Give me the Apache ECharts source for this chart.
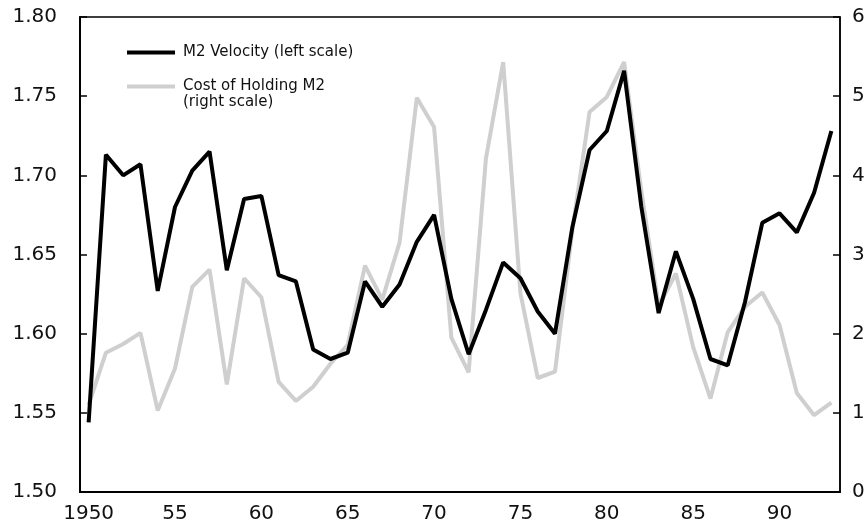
<!DOCTYPE html>
<html>
<head>
<meta charset="utf-8">
<script src="https://cdn.jsdelivr.net/npm/echarts@6/dist/echarts.min.js"></script>
<style>
html,body{margin:0;padding:0;background:#fff;}
#chart{width:868px;height:531px;}
</style>
</head>
<body>
<div id="chart"></div>
<script>
const years = ['1950','1951','1952','1953','1954','1955','1956','1957','1958','1959',
  '1960','1961','1962','1963','1964','1965','1966','1967','1968','1969',
  '1970','1971','1972','1973','1974','1975','1976','1977','1978','1979',
  '1980','1981','1982','1983','1984','1985','1986','1987','1988','1989',
  '1990','1991','1992','1993'];
const m2Velocity = [1.544,1.713,1.700,1.707,1.627,1.680,1.703,1.715,1.640,1.685,
  1.687,1.637,1.633,1.590,1.584,1.588,1.633,1.617,1.631,1.658,
  1.675,1.622,1.587,1.615,1.645,1.635,1.614,1.600,1.667,1.716,
  1.728,1.766,1.680,1.613,1.652,1.622,1.584,1.580,1.620,1.670,
  1.676,1.664,1.689,1.728];
const costOfHolding = [1.10,1.76,1.87,2.01,1.03,1.56,2.59,2.81,1.36,2.70,
  2.46,1.39,1.15,1.33,1.62,1.86,2.86,2.43,3.15,4.98,
  4.61,1.95,1.51,4.21,5.43,2.51,1.44,1.52,3.30,4.80,
  4.99,5.43,3.80,2.35,2.76,1.83,1.18,2.02,2.34,2.52,
  2.11,1.25,0.97,1.13];
const leftTicks = {min:1.50, max:1.80, interval:0.05};
const rightTicks = {min:0, max:6, interval:1};
const xLabelEvery = 5;

const FONT = 'DejaVu Sans';
const chart = echarts.init(document.getElementById('chart'));
chart.setOption({
  animation:false,
  backgroundColor:'#fff',
  grid:{left:80,right:28,top:17,bottom:39,show:true,borderColor:'#000',borderWidth:1.5},
  legend:[
    {left:122,top:40,itemWidth:48,itemHeight:4,icon:'rect',data:['M2 Velocity (left scale)'],
     textStyle:{fontFamily:FONT,fontSize:15,color:'#111',padding:[0,0,0,3]}},
    {left:122,top:74,itemWidth:48,itemHeight:4,icon:'rect',data:['Cost of Holding M2 (right scale)'],
     formatter:()=>'Cost of Holding M2',
     textStyle:{fontFamily:FONT,fontSize:15,color:'#111',padding:[0,0,0,3]}}
  ],
  graphic:[{type:'text',left:183,top:95,style:{text:'(right scale)',font:'15px "DejaVu Sans"',fill:'#111'}}],
  xAxis:{type:'category',data:years,boundaryGap:true,
    axisLine:{lineStyle:{color:'#000',width:2}},
    axisTick:{inside:true,length:6,alignWithLabel:true,interval:0,lineStyle:{color:'#000',width:1.5}},
    axisLabel:{interval:(i)=>i%xLabelEvery===0,margin:12,color:'#111',fontFamily:FONT,fontSize:20,
      formatter:(v,i)=>i===0?v:v.slice(2)}},
  yAxis:[
    {type:'value',position:'left',min:leftTicks.min,max:leftTicks.max,interval:leftTicks.interval,
     splitLine:{show:false},
     axisLine:{show:true,lineStyle:{color:'#000',width:2}},
     axisTick:{show:true,inside:true,length:7,lineStyle:{color:'#000',width:1.5}},
     axisLabel:{margin:23,color:'#111',fontFamily:FONT,fontSize:20,formatter:v=>v.toFixed(2)}},
    {type:'value',position:'right',min:rightTicks.min,max:rightTicks.max,interval:rightTicks.interval,
     splitLine:{show:false},
     axisLine:{show:true,lineStyle:{color:'#000',width:1.5}},
     axisTick:{show:true,inside:true,length:7,lineStyle:{color:'#000',width:1.5}},
     axisLabel:{margin:12,color:'#111',fontFamily:FONT,fontSize:20}}
  ],
  series:[
    {name:'Cost of Holding M2 (right scale)',type:'line',yAxisIndex:1,data:costOfHolding,
     symbol:'none',lineStyle:{color:'#cfcfcf',width:4},itemStyle:{color:'#cfcfcf'}},
    {name:'M2 Velocity (left scale)',type:'line',yAxisIndex:0,data:m2Velocity,
     symbol:'none',lineStyle:{color:'#000',width:4},itemStyle:{color:'#000'}}
  ]
});
</script>
</body>
</html>
